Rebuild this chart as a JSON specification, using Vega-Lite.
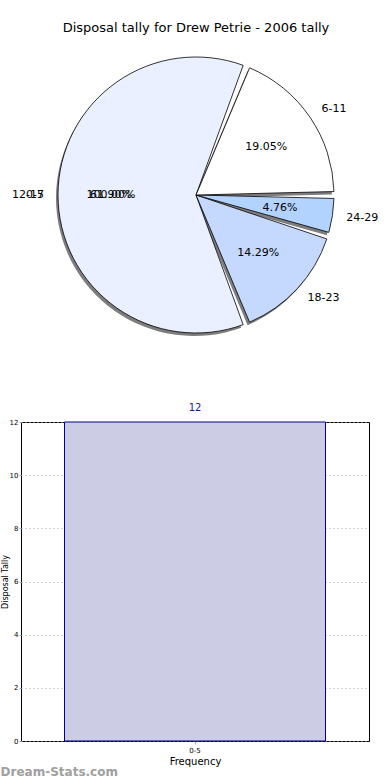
{
  "$schema": "https://vega.github.io/schema/vega-lite/v6.json",
  "padding": {"left": 0, "top": 22, "right": 0, "bottom": 0},
  "spacing": 66,
  "config": {"font": "DejaVu Sans", "view": {"stroke": "#000", "strokeWidth": 1}},
  "title": {"text": "Dream-Stats.com", "orient": "bottom", "anchor": "start", "fontSize": 12, "fontWeight": "bold", "color": "#a0a0a0", "offset": 0},
  "datasets": {
    "pie": [
      {"label": "12-17", "share": 0.6190},
      {"label": "18-23", "share": 0.1429},
      {"label": "24-29", "share": 0.0476},
      {"label": "6-11", "share": 0.1905}
    ],
    "base": [{"label": "0-5", "share": 1.0}],
    "bars": [{"range": "0-5", "count": 12}]
  },
  "vconcat": [
    {
      "width": 350,
      "height": 280,
      "view": {"stroke": null},
      "title": {"text": "Disposal tally for Drew Petrie - 2006 tally", "fontSize": 13, "fontWeight": "normal", "color": "#000", "offset": 20, "anchor": "middle"},
      "resolve": {"scale": {"theta": "independent"}},
      "layer": [
        {
          "data": {"name": "pie"},
          "layer": [
            {
              "mark": {"type": "arc", "radius": 138, "padAngle": 0.05, "fill": "#666", "opacity": 0.85, "xOffset": -2, "yOffset": 3},
              "encoding": {
                "theta": {"field": "share", "type": "quantitative", "stack": true, "scale": {"range": [0.3739, -5.9093]}},
                "order": {"field": "label", "sort": "ascending"}
              }
            },
            {
              "mark": {"type": "arc", "radius": 138, "padAngle": 0.05, "stroke": "#000", "strokeWidth": 0.8},
              "encoding": {
                "theta": {"field": "share", "type": "quantitative", "stack": true},
                "order": {"field": "label", "sort": "ascending"},
                "color": {"field": "label", "type": "nominal", "legend": null,
                  "scale": {"domain": ["24-29", "18-23", "12-17", "6-11"], "range": ["#B3D3FF", "#C5D9FF", "#EAF0FF", "#FFFFFF"]}}
              }
            },
            {
              "mark": {"type": "text", "radius": 152, "align": "left", "baseline": "middle", "fontSize": 11},
              "encoding": {
                "theta": {"field": "share", "type": "quantitative", "stack": true},
                "order": {"field": "label", "sort": "ascending"},
                "text": {"condition": {"test": "datum.label != '12-17'", "field": "label"}, "value": ""}
              }
            },
            {
              "mark": {"type": "text", "radius": 152, "align": "right", "baseline": "middle", "fontSize": 11},
              "encoding": {
                "theta": {"field": "share", "type": "quantitative", "stack": true},
                "order": {"field": "label", "sort": "ascending"},
                "text": {"condition": {"test": "datum.label == '12-17'", "field": "label"}, "value": ""}
              }
            },
            {
              "mark": {"type": "text", "radius": 85, "align": "center", "baseline": "middle", "fontSize": 11},
              "encoding": {
                "theta": {"field": "share", "type": "quantitative", "stack": true},
                "order": {"field": "label", "sort": "ascending"},
                "text": {"field": "share", "type": "quantitative", "format": ".2%"}
              }
            }
          ]
        },
        {
          "data": {"name": "base"},
          "layer": [
            {
              "mark": {"type": "text", "radius": 152, "align": "right", "baseline": "middle", "fontSize": 11},
              "encoding": {
                "theta": {"field": "share", "type": "quantitative", "stack": true, "scale": {"range": [1.5708, -4.7124]}},
                "text": {"field": "label"}
              }
            },
            {
              "mark": {"type": "text", "radius": 85, "align": "center", "baseline": "middle", "fontSize": 11},
              "encoding": {
                "theta": {"field": "share", "type": "quantitative", "stack": true},
                "text": {"field": "share", "type": "quantitative", "format": ".2%"}
              }
            }
          ]
        }
      ]
    },
    {
      "width": 348,
      "height": 319,
      "data": {"name": "bars"},
      "layer": [
        {
          "mark": {"type": "bar", "fill": "#CCCCE5", "stroke": "#00008B", "strokeWidth": 1},
          "encoding": {
            "x": {"field": "range", "type": "nominal", "title": "Frequency",
              "scale": {"paddingInner": 0.25, "paddingOuter": 0.125},
              "axis": {"labelAngle": 0, "labelFontSize": 7, "titleFontSize": 10, "titleFontWeight": "normal", "titlePadding": 3,
                "grid": true, "gridColor": "#aaa", "gridDash": [1, 3], "domain": false, "tickSize": 3, "tickColor": "#aaa", "labelPadding": 2}},
            "y": {"field": "count", "type": "quantitative", "title": "Disposal Tally",
              "scale": {"domain": [0, 12]},
              "axis": {"values": [0, 2, 4, 6, 8, 10, 12], "labelFontSize": 7, "titleFontSize": 8, "titleFontWeight": "normal",
                "grid": true, "gridColor": "#aaa", "gridDash": [1, 3], "domain": false, "tickSize": 2, "tickColor": "#aaa", "labelPadding": 1, "titlePadding": 0}}
          }
        },
        {
          "mark": {"type": "text", "dy": -9, "fontSize": 10, "color": "#1a1a80", "baseline": "bottom"},
          "encoding": {
            "x": {"field": "range", "type": "nominal"},
            "y": {"field": "count", "type": "quantitative"},
            "text": {"field": "count"}
          }
        }
      ]
    }
  ]
}
